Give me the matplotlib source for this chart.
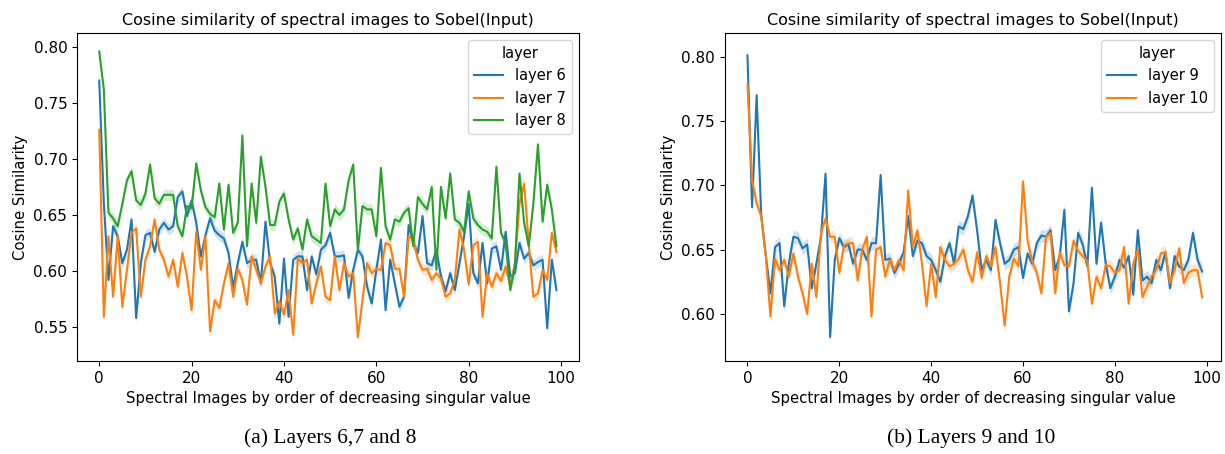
import numpy as np
import matplotlib
matplotlib.use("Agg")
import matplotlib.pyplot as plt

plt.rcParams['font.family'] = ['DejaVu Sans']

steps = np.arange(100)

layer6 = [0.770, 0.660, 0.592, 0.640, 0.631, 0.607, 0.619, 0.646, 0.558, 0.607,
          0.632, 0.634, 0.617, 0.637, 0.643, 0.637, 0.640, 0.666, 0.671, 0.649,
          0.663, 0.643, 0.613, 0.632, 0.647, 0.636, 0.632, 0.629, 0.616, 0.585,
          0.607, 0.626, 0.607, 0.610, 0.610, 0.589, 0.644, 0.607, 0.595, 0.553,
          0.611, 0.559, 0.610, 0.613, 0.613, 0.583, 0.613, 0.597, 0.619, 0.623,
          0.634, 0.613, 0.613, 0.614, 0.576, 0.601, 0.619, 0.613, 0.586, 0.571,
          0.601, 0.628, 0.565, 0.610, 0.589, 0.568, 0.577, 0.641, 0.625, 0.616,
          0.649, 0.607, 0.605, 0.619, 0.595, 0.582, 0.598, 0.583, 0.607, 0.631,
          0.660, 0.598, 0.589, 0.625, 0.589, 0.620, 0.622, 0.601, 0.635, 0.595,
          0.598, 0.625, 0.611, 0.616, 0.605, 0.608, 0.610, 0.549, 0.610, 0.583]
layer7 = [0.726, 0.559, 0.631, 0.577, 0.631, 0.568, 0.601, 0.634, 0.638, 0.577,
          0.610, 0.622, 0.646, 0.619, 0.610, 0.595, 0.610, 0.586, 0.616, 0.595,
          0.565, 0.635, 0.601, 0.631, 0.546, 0.574, 0.567, 0.589, 0.607, 0.577,
          0.602, 0.592, 0.570, 0.613, 0.601, 0.589, 0.604, 0.613, 0.562, 0.573,
          0.561, 0.583, 0.543, 0.611, 0.607, 0.610, 0.571, 0.589, 0.604, 0.577,
          0.574, 0.613, 0.583, 0.607, 0.595, 0.598, 0.541, 0.574, 0.607, 0.598,
          0.602, 0.601, 0.625, 0.623, 0.602, 0.602, 0.577, 0.631, 0.628, 0.610,
          0.601, 0.602, 0.592, 0.598, 0.593, 0.577, 0.580, 0.592, 0.637, 0.619,
          0.588, 0.623, 0.626, 0.559, 0.598, 0.586, 0.598, 0.591, 0.604, 0.586,
          0.607, 0.660, 0.678, 0.625, 0.577, 0.580, 0.601, 0.592, 0.634, 0.617]
layer8 = [0.796, 0.762, 0.652, 0.647, 0.640, 0.660, 0.681, 0.689, 0.663, 0.659,
          0.669, 0.695, 0.665, 0.660, 0.668, 0.668, 0.668, 0.640, 0.631, 0.658,
          0.656, 0.696, 0.672, 0.657, 0.651, 0.648, 0.678, 0.637, 0.677, 0.634,
          0.643, 0.721, 0.622, 0.678, 0.643, 0.702, 0.675, 0.641, 0.641, 0.662,
          0.669, 0.646, 0.628, 0.638, 0.619, 0.646, 0.631, 0.628, 0.625, 0.678,
          0.640, 0.655, 0.650, 0.655, 0.681, 0.695, 0.619, 0.658, 0.655, 0.655,
          0.631, 0.692, 0.640, 0.628, 0.646, 0.644, 0.652, 0.656, 0.622, 0.666,
          0.660, 0.655, 0.675, 0.601, 0.675, 0.647, 0.687, 0.646, 0.643, 0.635,
          0.671, 0.647, 0.641, 0.637, 0.635, 0.629, 0.693, 0.634, 0.625, 0.583,
          0.604, 0.687, 0.643, 0.622, 0.660, 0.713, 0.644, 0.677, 0.655, 0.622]
layer9 = [0.801, 0.683, 0.770, 0.676, 0.645, 0.616, 0.652, 0.655, 0.606, 0.639,
          0.660, 0.659, 0.651, 0.654, 0.620, 0.639, 0.660, 0.709, 0.582, 0.642,
          0.659, 0.652, 0.654, 0.639, 0.650, 0.650, 0.642, 0.655, 0.655, 0.708,
          0.642, 0.643, 0.632, 0.639, 0.648, 0.676, 0.645, 0.657, 0.655, 0.645,
          0.642, 0.634, 0.625, 0.645, 0.655, 0.639, 0.668, 0.666, 0.676, 0.692,
          0.665, 0.634, 0.642, 0.634, 0.673, 0.655, 0.639, 0.642, 0.650, 0.652,
          0.628, 0.647, 0.639, 0.655, 0.661, 0.660, 0.665, 0.634, 0.645, 0.681,
          0.602, 0.624, 0.663, 0.654, 0.637, 0.698, 0.639, 0.671, 0.639, 0.620,
          0.629, 0.642, 0.636, 0.645, 0.615, 0.665, 0.626, 0.629, 0.624, 0.642,
          0.634, 0.648, 0.620, 0.645, 0.637, 0.634, 0.642, 0.663, 0.642, 0.633]
layer10 = [0.779, 0.704, 0.686, 0.676, 0.645, 0.598, 0.643, 0.634, 0.642, 0.629,
           0.647, 0.629, 0.616, 0.600, 0.639, 0.613, 0.663, 0.674, 0.660, 0.660,
           0.632, 0.653, 0.655, 0.655, 0.626, 0.650, 0.660, 0.598, 0.650, 0.652,
           0.629, 0.642, 0.634, 0.642, 0.634, 0.696, 0.652, 0.665, 0.639, 0.606,
           0.639, 0.613, 0.652, 0.642, 0.637, 0.639, 0.643, 0.650, 0.634, 0.625,
           0.648, 0.628, 0.645, 0.637, 0.652, 0.624, 0.591, 0.629, 0.643, 0.637,
           0.703, 0.657, 0.641, 0.632, 0.616, 0.660, 0.663, 0.616, 0.648, 0.638,
           0.637, 0.657, 0.649, 0.645, 0.641, 0.608, 0.629, 0.620, 0.638, 0.637,
           0.632, 0.634, 0.652, 0.608, 0.639, 0.650, 0.613, 0.621, 0.629, 0.634,
           0.647, 0.648, 0.624, 0.634, 0.651, 0.624, 0.632, 0.634, 0.634, 0.613]

names_a = ["layer 6", "layer 7", "layer 8"]
names_b = ["layer 9", "layer 10"]
ci_half = 0.005

colors = ["#1f77b4", "#ff7f0e", "#2ca02c"]
title = "Cosine similarity of spectral images to Sobel(Input)"
xlab = "Spectral Images by order of decreasing singular value"


def draw_panel(ax, series, names, ylim, xlim):
    for vals, name, c in zip(series, names, colors):
        vals = np.array(vals)
        ax.fill_between(steps, vals - ci_half, vals + ci_half, color=c,
                        alpha=0.2, linewidth=0)
        ax.plot(steps, vals, color=c, lw=1.5, label=name)
    ax.set_xlim(*xlim)
    ax.set_ylim(*ylim)
    ax.set_xticks([0, 20, 40, 60, 80, 100])
    ax.set_title(title, fontsize=11.5)
    ax.set_xlabel(xlab, fontsize=10.7)
    ax.set_ylabel("Cosine Similarity", fontsize=10.7)
    ax.tick_params(labelsize=11)
    ax.legend(title="layer", loc="upper right", fontsize=10.5,
              title_fontsize=10.5)


fig = plt.figure(figsize=(12.25, 4.54), dpi=100, facecolor="white")
ax1 = fig.add_axes([0.0629, 0.2048, 0.4098, 0.7225])
ax2 = fig.add_axes([0.5918, 0.2048, 0.4049, 0.7225])

draw_panel(ax1, [layer6, layer7, layer8], names_a, (0.5196, 0.8125), (-4.8, 103.9))
draw_panel(ax2, [layer9, layer10], names_b, (0.5634, 0.8184), (-4.9, 103.1))
ax1.set_yticks([0.55, 0.60, 0.65, 0.70, 0.75, 0.80])
ax2.set_yticks([0.60, 0.65, 0.70, 0.75, 0.80])

fig.text(0.27, 0.025, "(a) Layers 6,7 and 8", ha="center", fontsize=15.5,
         family="Liberation Serif")
fig.text(0.793, 0.025, "(b) Layers 9 and 10", ha="center", fontsize=15.5,
         family="Liberation Serif")

fig.savefig("out.png", dpi=100)
